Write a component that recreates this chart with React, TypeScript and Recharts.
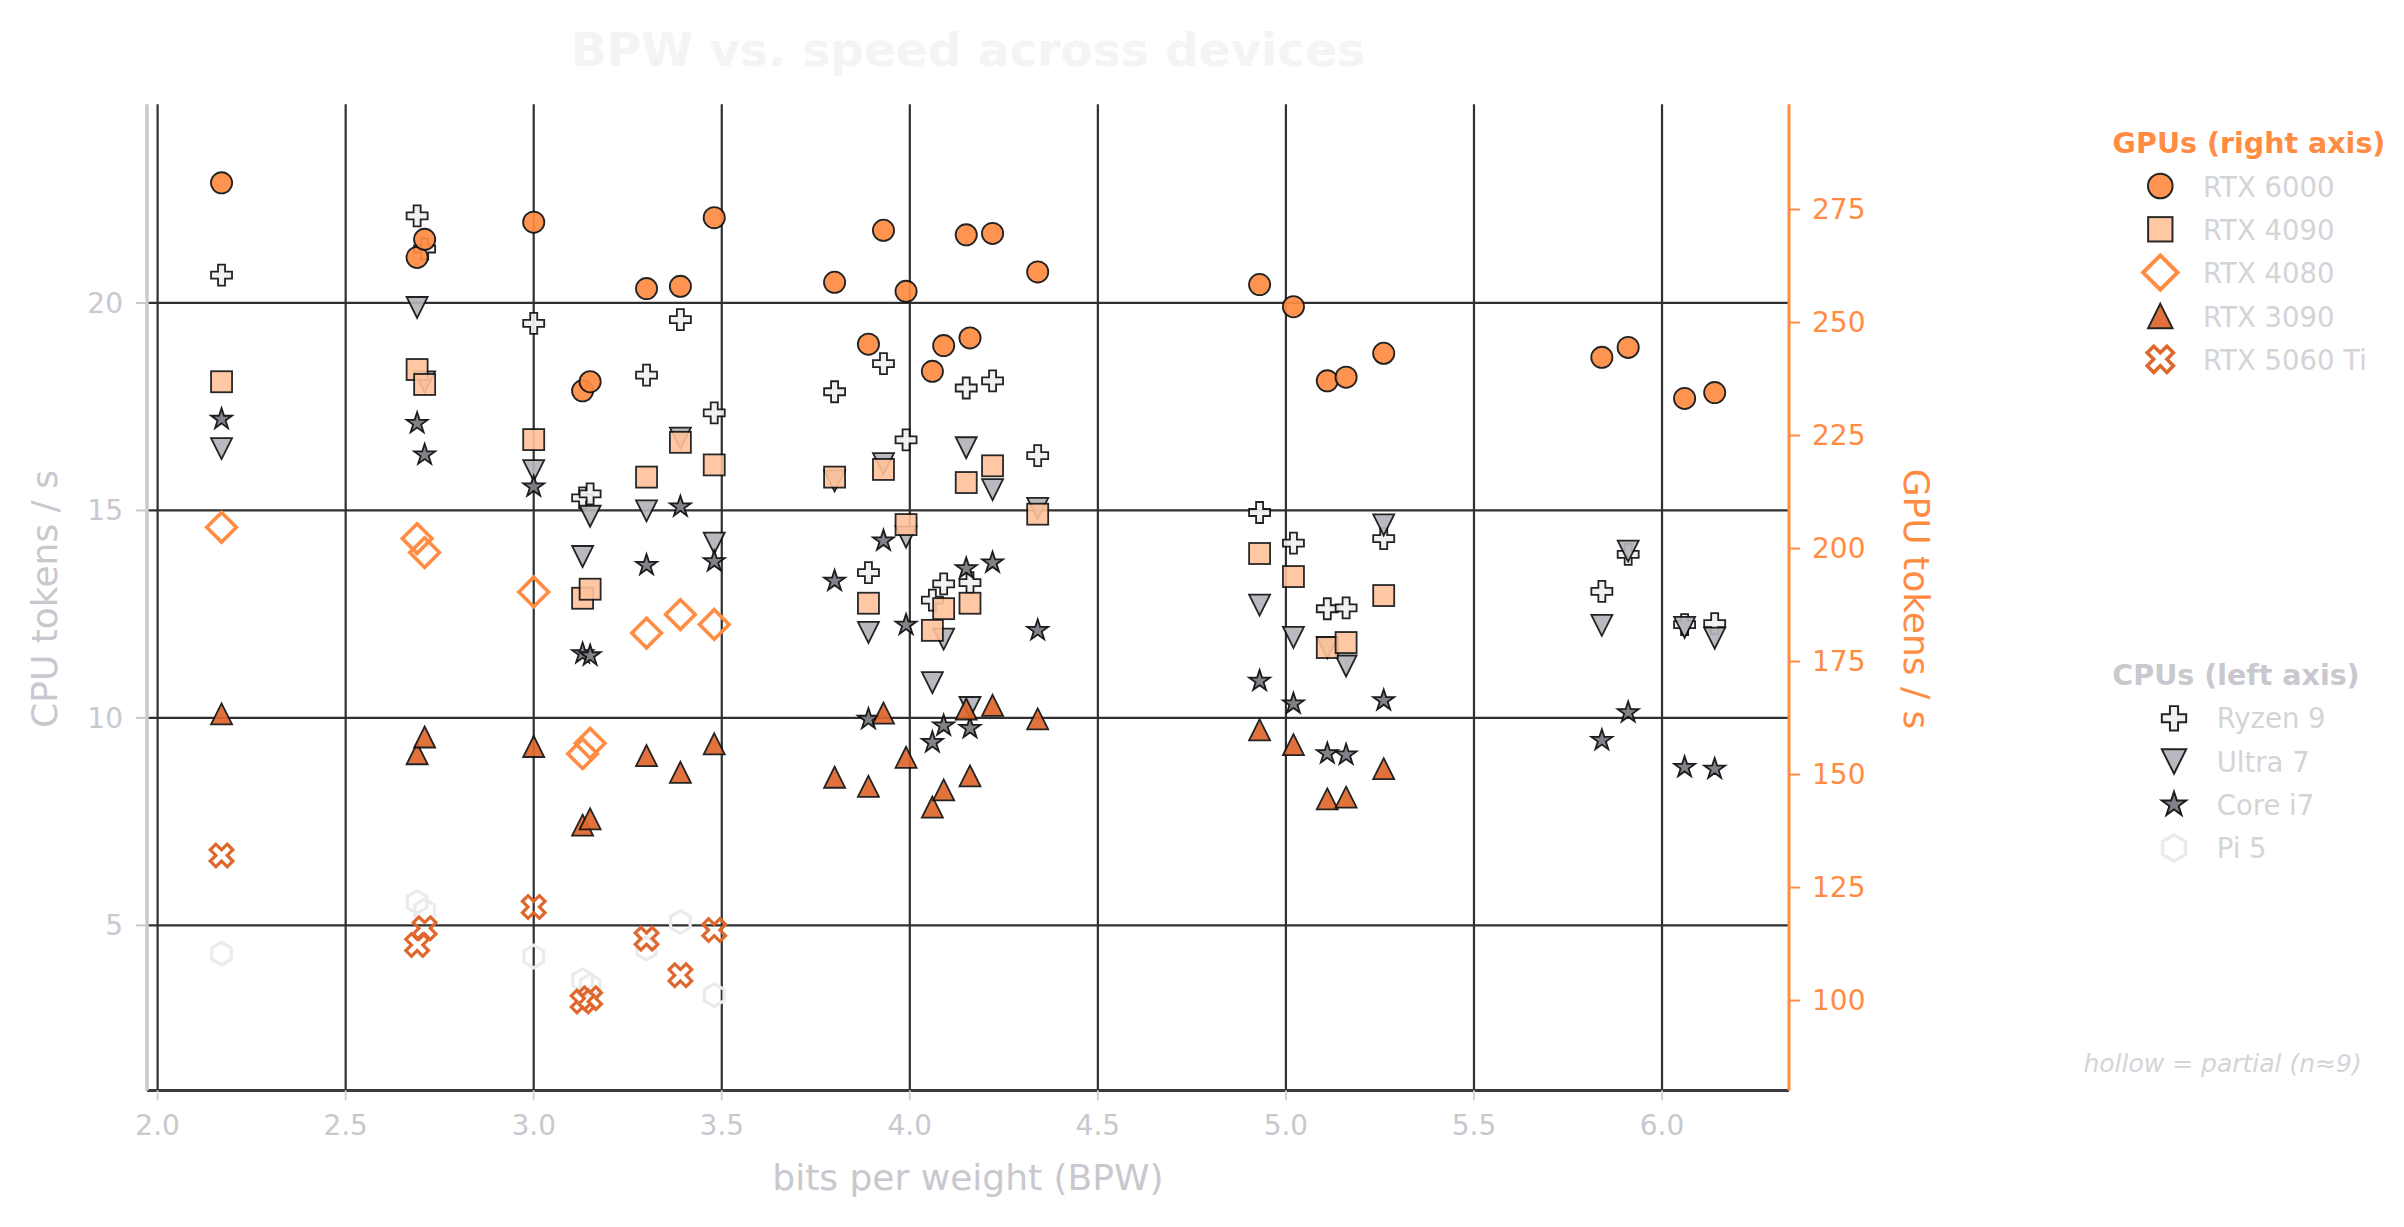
import React from 'react'
import { ScatterChart, Scatter, XAxis, YAxis, CartesianGrid } from 'recharts'

// quant levels (bits per weight), shared by every device
const BPW = [2.17, 2.69, 2.71, 3.0, 3.13, 3.15, 3.3, 3.39, 3.48, 3.8, 3.89, 3.93, 3.99, 4.06, 4.09, 4.15, 4.16, 4.22, 4.34, 4.93, 5.02, 5.11, 5.16, 5.26, 5.84, 5.91, 6.06, 6.14]

// GPU tokens / s (right axis)
const RTX_6000 = [280.9, 264.4, 268.4, 272.2, 234.9, 236.9, 257.5, 258.0, 273.2, 258.9, 245.2, 270.4, 256.9, 239.2, 244.9, 269.4, 246.6, 269.7, 261.2, 258.4, 253.5, 237.1, 237.9, 243.2, 242.3, 244.5, 233.2, 234.5]
const RTX_4090 = [236.9, 239.6, 236.3, 224.1, 189.0, 191.0, 215.8, 223.5, 218.5, 215.8, 187.9, 217.5, 205.3, 181.9, 186.7, 214.6, 187.9, 218.3, 207.6, 198.9, 193.8, 178.1, 179.2, 189.6, null, null, null, null]
const RTX_4080 = [204.7, 202.2, 199.1, 190.4, 154.6, 156.9, 181.3, 185.4, 183.2, null, null, null, null, null, null, null, null, null, null, null, null, null, null, null, null, null, null, null]
const RTX_3090 = [163.4, 154.6, 158.3, 156.2, 138.8, 140.2, 154.2, 150.5, 156.8, 149.4, 147.4, 163.6, 153.8, 142.8, 146.6, 164.5, 149.7, 165.3, 162.3, 159.9, 156.6, 144.6, 145.0, 151.3, null, null, null, null]
const RTX_5060TI = [132.1, 112.3, 116.0, 120.7, 99.8, 100.5, 113.7, 105.6, 115.6, null, null, null, null, null, null, null, null, null, null, null, null, null, null, null, null, null, null, null]

// CPU tokens / s (left axis)
const RYZEN_9 = [20.67, 22.1, 21.3, 19.51, 15.3, 15.4, 18.26, 19.6, 17.35, 17.86, 13.5, 18.54, 16.7, 12.84, 13.23, 17.95, 13.26, 18.12, 16.32, 14.95, 14.21, 12.63, 12.65, 14.32, 13.05, 13.94, 12.25, 12.27]
const ULTRA_7 = [16.49, 19.89, 18.1, 15.96, 13.89, 14.86, 14.99, 16.74, 14.21, 15.71, 12.06, 16.13, 14.36, 10.85, 11.9, 16.51, 10.25, 15.5, 15.05, 12.72, 11.94, 11.69, 11.25, 14.65, 12.23, 14.02, 12.18, 11.92]
const CORE_I7 = [17.2, 17.1, 16.34, 15.57, 11.55, 11.5, 13.68, 15.09, 13.77, 13.3, 9.97, 14.27, 12.24, 9.41, 9.81, 13.6, 9.75, 13.74, 12.11, 10.89, 10.34, 9.14, 9.11, 10.42, 9.46, 10.13, 8.81, 8.77]
const PI_5 = [4.32, 5.56, 5.36, 4.25, 3.68, 3.55, 4.44, 5.08, 3.32, null, null, null, null, null, null, null, null, null, null, null, null, null, null, null, null, null, null, null]

const X_TICKS = [2.0, 2.5, 3.0, 3.5, 4.0, 4.5, 5.0, 5.5, 6.0]
const CPU_TICKS = [5, 10, 15, 20]
const GPU_TICKS = [100, 125, 150, 175, 200, 225, 250, 275]

const FONT = '"DejaVu Sans", sans-serif'
const ORANGE = '#ff8c42'
const DARK_ORANGE = '#e0672c'
const PALE = '#c8c8ce'
const LEGEND_TEXT = '#d4d4d8'
const EDGE = '#111111'

type Kind = 'circle' | 'square' | 'diamond' | 'triUp' | 'triDown' | 'xfill' | 'plus' | 'star' | 'hex'

interface Style {
  kind: Kind
  fill: string
  stroke: string
  sw: number
  opacity: number
}

const S_6000: Style = { kind: 'circle', fill: ORANGE, stroke: EDGE, sw: 1.8, opacity: 0.92 }
const S_4090: Style = { kind: 'square', fill: '#ffc29a', stroke: EDGE, sw: 1.8, opacity: 0.9 }
const S_4080: Style = { kind: 'diamond', fill: 'none', stroke: ORANGE, sw: 3.6, opacity: 1 }
const S_3090: Style = { kind: 'triUp', fill: DARK_ORANGE, stroke: EDGE, sw: 1.8, opacity: 0.92 }
const S_5060: Style = { kind: 'xfill', fill: 'none', stroke: DARK_ORANGE, sw: 3.2, opacity: 1 }
const S_RYZEN: Style = { kind: 'plus', fill: '#f0f0f3', stroke: EDGE, sw: 1.8, opacity: 0.92 }
const S_ULTRA: Style = { kind: 'triDown', fill: '#b4b4ba', stroke: EDGE, sw: 1.8, opacity: 0.92 }
const S_CORE: Style = { kind: 'star', fill: '#7c7c84', stroke: EDGE, sw: 1.8, opacity: 0.95 }
const S_PI: Style = { kind: 'hex', fill: 'none', stroke: '#ebebee', sw: 3.2, opacity: 1 }

const pts = (ys: (number | null)[]) =>
  BPW.map((x, i) => ({ x, y: ys[i] })).filter((p) => p.y !== null)

const poly = (p: number[][], cx: number, cy: number) =>
  p.map(([x, y]) => `${(cx + x).toFixed(2)},${(cy + y).toFixed(2)}`).join(' ')

function plusPts(a: number, e: number) {
  return [[-a, -e], [a, -e], [a, -a], [e, -a], [e, a], [a, a], [a, e], [-a, e], [-a, a], [-e, a], [-e, -a], [-a, -a]]
}

function Glyph({ st, cx, cy, k = 1 }: { st: Style; cx: number; cy: number; k?: number }) {
  const common = {
    fill: st.fill,
    stroke: st.stroke,
    strokeWidth: st.sw * (k > 1 ? 1.1 : 1),
    opacity: st.opacity,
    strokeLinejoin: 'miter' as const,
  }
  switch (st.kind) {
    case 'circle':
      return <circle cx={cx} cy={cy} r={10.6 * k} {...common} />
    case 'square':
      return <rect x={cx - 10.5 * k} y={cy - 10.5 * k} width={21 * k} height={21 * k} {...common} />
    case 'diamond': {
      const d = 14.8 * k
      return <polygon points={poly([[0, -d], [d, 0], [0, d], [-d, 0]], cx, cy)} {...common} />
    }
    case 'triUp': {
      const h = 10.5 * k
      return <polygon points={poly([[0, -h], [h, h], [-h, h]], cx, cy)} {...common} />
    }
    case 'triDown': {
      const h = 10.5 * k
      return <polygon points={poly([[0, h], [-h, -h], [h, -h]], cx, cy)} {...common} />
    }
    case 'plus':
      return <polygon points={poly(plusPts(3.5 * k, 10.5 * k), cx, cy)} {...common} />
    case 'xfill': {
      const u = 4.0 * k
      const c = Math.SQRT1_2
      const p = plusPts(u, 3 * u).map(([x, y]) => [(x - y) * c, (x + y) * c])
      return <polygon points={poly(p, cx, cy)} {...common} />
    }
    case 'star': {
      const R = 11 * k
      const r = R * 0.381966
      const p: number[][] = []
      for (let i = 0; i < 10; i++) {
        const a = -Math.PI / 2 + (i * Math.PI) / 5
        const rr = i % 2 === 0 ? R : r
        p.push([rr * Math.cos(a), rr * Math.sin(a)])
      }
      return <polygon points={poly(p, cx, cy)} {...common} />
    }
    case 'hex': {
      const R = 11.3 * k
      const p: number[][] = []
      for (let i = 0; i < 6; i++) {
        const a = -Math.PI / 2 + (i * Math.PI) / 3
        p.push([R * Math.cos(a), R * Math.sin(a)])
      }
      return <polygon points={poly(p, cx, cy)} {...common} />
    }
  }
  return null
}

const shapeOf = (st: Style) => (props: any) => <Glyph st={st} cx={props.cx} cy={props.cy} />

const CPU_SERIES = [
  { name: 'Ryzen 9', data: pts(RYZEN_9), st: S_RYZEN },
  { name: 'Ultra 7', data: pts(ULTRA_7), st: S_ULTRA },
  { name: 'Core i7', data: pts(CORE_I7), st: S_CORE },
  { name: 'Pi 5', data: pts(PI_5), st: S_PI },
]

const GPU_SERIES = [
  { name: 'RTX 6000', data: pts(RTX_6000), st: S_6000 },
  { name: 'RTX 4090', data: pts(RTX_4090), st: S_4090 },
  { name: 'RTX 4080', data: pts(RTX_4080), st: S_4080 },
  { name: 'RTX 3090', data: pts(RTX_3090), st: S_3090 },
  { name: 'RTX 5060 Ti', data: pts(RTX_5060TI), st: S_5060 },
]

function Overlay() {
  const gpuRows = [186, 229.3, 272.6, 316, 359.3]
  const cpuRows = [718.3, 761.5, 804.5, 848]
  return (
    <svg
      width={2404}
      height={1227}
      style={{ position: 'absolute', left: 0, top: 0, pointerEvents: 'none' }}
      fontFamily={FONT}
    >
      <text x={968} y={66} textAnchor="middle" fontSize={47} fontWeight="bold" fill="#f4f4f4">
        BPW vs. speed across devices
      </text>
      <text x={968} y={1190} textAnchor="middle" fontSize={36} fill={PALE}>
        bits per weight (BPW)
      </text>
      <text x={57} y={599} textAnchor="middle" fontSize={36} fill={PALE} transform="rotate(-90 57 599)">
        CPU tokens / s
      </text>
      <text x={1904} y={599} textAnchor="middle" fontSize={36} fill={ORANGE} transform="rotate(90 1904 599)">
        GPU tokens / s
      </text>

      <text x={2249} y={152.7} textAnchor="middle" fontSize={28.5} fontWeight="bold" fill={ORANGE}>
        GPUs (right axis)
      </text>
      {GPU_SERIES.map((s, i) => (
        <g key={s.name}>
          <Glyph st={s.st} cx={2160.3} cy={gpuRows[i]} k={1.16} />
          <text x={2203} y={gpuRows[i] + 10.5} fontSize={27.5} fill={LEGEND_TEXT}>
            {s.name}
          </text>
        </g>
      ))}

      <text x={2236} y={685} textAnchor="middle" fontSize={28.5} fontWeight="bold" fill={PALE}>
        CPUs (left axis)
      </text>
      {CPU_SERIES.map((s, i) => (
        <g key={s.name}>
          <Glyph st={s.st} cx={2174} cy={cpuRows[i]} k={1.16} />
          <text x={2216.7} y={cpuRows[i] + 10} fontSize={27.5} fill={LEGEND_TEXT}>
            {s.name}
          </text>
        </g>
      ))}

      <text x={2361.7} y={1071.7} textAnchor="end" fontSize={25} fontStyle="italic" fill={LEGEND_TEXT}>
        hollow = partial (n≈9)
      </text>
    </svg>
  )
}

export default function App() {
  return (
    <div style={{ position: 'absolute', left: 0, top: 0, width: 2404, height: 1227, background: '#fff' }}>
      <ScatterChart
        width={2404}
        height={1227}
        margin={{ top: 104.2, right: 505, bottom: 76.5, left: 37 }}
      >
        <CartesianGrid yAxisId="cpu" stroke="#303030" strokeWidth={2.2} fill="none" syncWithTicks />
        <XAxis
          type="number"
          dataKey="x"
          domain={[1.9718, 6.3376]}
          allowDataOverflow
          ticks={X_TICKS}
          tickFormatter={(v: number) => v.toFixed(1)}
          height={60}
          tickSize={10}
          tickMargin={14.5}
          axisLine={{ stroke: '#3a3a3e', strokeWidth: 3 }}
          tickLine={{ stroke: '#d4d4d8', strokeWidth: 2 }}
          tick={{ fill: PALE, fontSize: 28, fontFamily: FONT }}
        />
        <YAxis
          yAxisId="cpu"
          type="number"
          dataKey="y"
          domain={[1.02, 24.79]}
          allowDataOverflow
          ticks={CPU_TICKS}
          width={110}
          tickSize={11}
          tickMargin={13}
          axisLine={{ stroke: '#c8c8d0', strokeWidth: 3.5 }}
          tickLine={{ stroke: '#c8c8d0', strokeWidth: 2 }}
          tick={{ fill: PALE, fontSize: 28, fontFamily: FONT }}
        />
        <YAxis
          yAxisId="gpu"
          orientation="right"
          type="number"
          dataKey="y"
          domain={[80.1, 298.3]}
          allowDataOverflow
          ticks={GPU_TICKS}
          width={110}
          tickSize={11}
          tickMargin={12}
          axisLine={{ stroke: ORANGE, strokeWidth: 3 }}
          tickLine={{ stroke: ORANGE, strokeWidth: 2 }}
          tick={{ fill: ORANGE, fontSize: 28, fontFamily: FONT }}
        />
        {CPU_SERIES.map((s) => (
          <Scatter
            key={s.name}
            name={s.name}
            yAxisId="cpu"
            data={s.data}
            shape={shapeOf(s.st)}
            isAnimationActive={false}
          />
        ))}
        {GPU_SERIES.map((s) => (
          <Scatter
            key={s.name}
            name={s.name}
            yAxisId="gpu"
            data={s.data}
            shape={shapeOf(s.st)}
            isAnimationActive={false}
          />
        ))}
      </ScatterChart>
      <Overlay />
    </div>
  )
}
